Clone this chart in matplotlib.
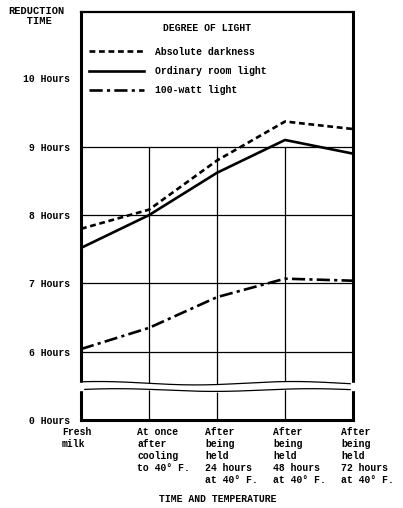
import numpy as np
import matplotlib
matplotlib.use('Agg')
import matplotlib.pyplot as plt
import matplotlib.transforms as mtransforms
from matplotlib.lines import Line2D

# categories along the bottom
stages = ['Fresh\nmilk',
          'At once\nafter\ncooling\nto 40\u00b0 F.',
          'After\nbeing\nheld\n24 hours\nat 40\u00b0 F.',
          'After\nbeing\nheld\n48 hours\nat 40\u00b0 F.',
          'After\nbeing\nheld\n72 hours\nat 40\u00b0 F.']

# reduction time in hours
darkness = [7.80, 8.08, 8.80, 9.37, 9.26]
room_light = [7.52, 8.00, 8.62, 9.10, 8.90]
watt_light = [6.04, 6.35, 6.80, 7.07, 7.04]

series_names = ['Absolute darkness', 'Ordinary room light', '100-watt light']

# y ticks (axis is broken: bottom position stands for 0 hours)
ytick_pos = [5, 6, 7, 8, 9, 10]
ytick_lab = ['0 Hours', '6 Hours', '7 Hours', '8 Hours', '9 Hours', '10 Hours']

plt.rcParams['font.family'] = ['Liberation Mono', 'DejaVu Sans Mono']
plt.rcParams['font.weight'] = 'bold'
fs = 7

fig = plt.figure(figsize=(4.03, 5.08), dpi=100)
ax = fig.add_axes([0.201, 0.173, 0.675, 0.803])

x = np.arange(len(stages))
ax.set_xlim(0, len(stages) - 1)
ax.set_ylim(5.0, 10.97)

# grid
for yv in [6, 7, 8, 9]:
    ax.axhline(yv, color='black', lw=0.9, zorder=1)
for xv in x[1:-1]:
    ax.plot([xv, xv], [5.0, 9.0], color='black', lw=0.9, zorder=1)

# break marks
xx = np.linspace(0, len(stages) - 1, 200)
upper = 5.54 + 0.025 * np.sin(xx * 2.2 + 1.0)
lower = 5.44 + 0.02 * np.sin(xx * 2.2 + 0.4)
ax.fill_between(xx, lower, upper, color='white', zorder=2, clip_on=False)
ax.plot(xx, upper, color='black', lw=0.9, zorder=3)
ax.plot(xx, lower, color='black', lw=0.9, zorder=3)

lw = 1.9
ax.plot(x, darkness, color='black', lw=lw, linestyle=(0, (2.2, 1.4)), zorder=4)
ax.plot(x, room_light, color='black', lw=lw, linestyle='-', zorder=4)
ax.plot(x, watt_light, color='black', lw=lw, linestyle=(0, (5, 1.6, 1.2, 1.6)), zorder=4)

for side in ['left', 'right', 'bottom']:
    ax.spines[side].set_linewidth(2.2)
ax.spines['top'].set_linewidth(1.6)

# white gap in side spines at the break
ax.fill_between([-0.03, 0.03], [5.44, 5.44], [5.54, 5.54], color='white', zorder=5, clip_on=False)
ax.fill_between([len(stages) - 1 - 0.03, len(stages) - 1 + 0.03], [5.44, 5.44], [5.54, 5.54],
                color='white', zorder=5, clip_on=False)

ax.set_yticks(ytick_pos)
ax.set_yticklabels(ytick_lab, fontsize=fs)
ax.tick_params(axis='y', length=0, pad=8)

ax.set_xticks(x)
ax.set_xticklabels(stages, fontsize=fs, ha='left', va='top', linespacing=1.25)
ax.tick_params(axis='x', length=0, pad=5)
for i, lab in enumerate(ax.get_xticklabels()):
    shift = -19 if i == 0 else -12
    offset = mtransforms.ScaledTranslation(shift / 100, 0, fig.dpi_scale_trans)
    lab.set_transform(lab.get_transform() + offset)

fig.text(0.02, 0.988, 'REDUCTION\n   TIME', fontsize=7.5, ha='left', va='top', linespacing=1.05)
fig.text(0.54, 0.018, 'TIME AND TEMPERATURE', fontsize=fs, ha='center', va='center')

# legend
handles = [Line2D([], [], color='black', lw=lw, linestyle=(0, (2.2, 1.4))),
           Line2D([], [], color='black', lw=lw, linestyle='-'),
           Line2D([], [], color='black', lw=lw, linestyle=(0, (5, 1.6, 1.2, 1.6)))]
ax.text(0.465, 0.962, 'DEGREE OF LIGHT', transform=ax.transAxes, fontsize=fs,
        ha='center', va='center')
ax.legend(handles, series_names, loc='upper left', bbox_to_anchor=(0.005, 0.932),
          frameon=False, fontsize=fs, handlelength=5.6, handletextpad=1.2,
          labelspacing=0.95, borderaxespad=0.3)

fig.savefig('out.png', dpi=100)
